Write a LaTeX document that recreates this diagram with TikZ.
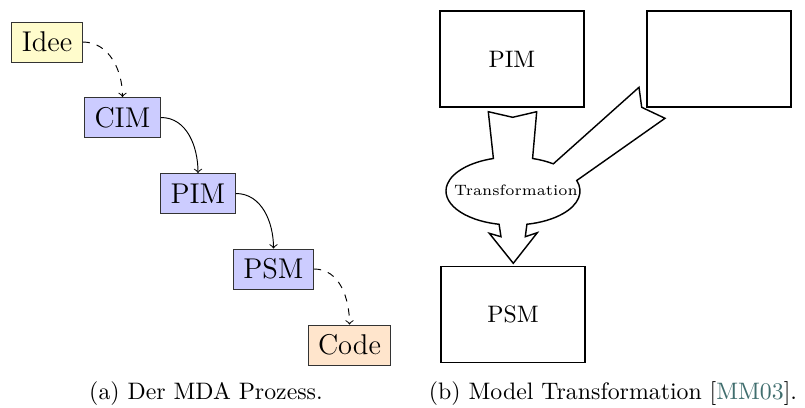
\documentclass[tikz,border=0pt]{standalone}
\usepackage{xcolor}
\usepackage{tikz}
\usetikzlibrary{arrows,calc}
\definecolor{citecol}{rgb}{0.25, 0.43, 0.43}
\tikzstyle{mda}=[draw=black!80,font=\large,inner xsep=4.2pt,minimum height=16.8pt]
\tikzstyle{modelbox}=[draw,semithick,minimum width=60.5pt,minimum height=40.3pt]

\begin{document}
\begin{tikzpicture}[x=0.42pt,y=0.42pt]
\useasboundingbox (0,0) rectangle (805,-408);

% MDA
\node[mda,fill=yellow!20] (idee) at (47,-42) {Idee};
\node[mda,fill=blue!20] (cim) at (122.5,-117.5) {CIM};
\node[mda,fill=blue!20] (pim) at (198,-193.5) {PIM};
\node[mda,fill=blue!20] (psm) at (273.5,-269) {PSM};
\node[mda,fill=orange!20] (code) at (349.5,-345) {Code};

\draw[->,dashed] (idee.east) to[out=0,in=90] (cim.north);
\draw[->] (cim.east) to[out=0,in=90] (pim.north);
\draw[->] (pim.east) to[out=0,in=90] (psm.north);
\draw[->,dashed] (psm.east) to[out=0,in=90] (code.north);

% Transformation
\node[modelbox] (mpim) at (512,-59) {PIM};
\node[modelbox] (mrule) at (719,-59) {};
\node[modelbox] (mpsm) at (513,-314.5) {PSM};
\coordinate (tf) at (513,-191);

\draw[semithick,fill=white]
    ($(tf)+(107:67 and 34)$)
     -- (488.3,-111.7) -- (512.7,-117.3) -- (536.7,-111.7)
     -- ($(tf)+(73:67 and 34)$) arc[start angle=73,end angle=53,x radius=67,y radius=34]
     -- (639,-87.3) -- (641.7,-107.3) -- (665,-118.3)
     -- ($(tf)+(18:67 and 34)$) arc[start angle=18,end angle=-78,x radius=67,y radius=34]
     -- (525.3,-236.7) -- (537.3,-232.7) -- (513.3,-263.3) -- (489.3,-233.3) -- (501,-236.7)
     -- ($(tf)+(-102:67 and 34)$) arc[start angle=-102,end angle=-253,x radius=67,y radius=34]
     -- cycle;
\node[font=\fontsize{6.3}{7}\selectfont] (tlabel) at (516,-190) {Transformation};

\node (capa) at (206,-394) {(a) Der MDA Prozess.};
\node (capb) at (613,-394) {(b) Model Transformation [\textcolor{citecol}{MM03}].};

\end{tikzpicture}
\end{document}
